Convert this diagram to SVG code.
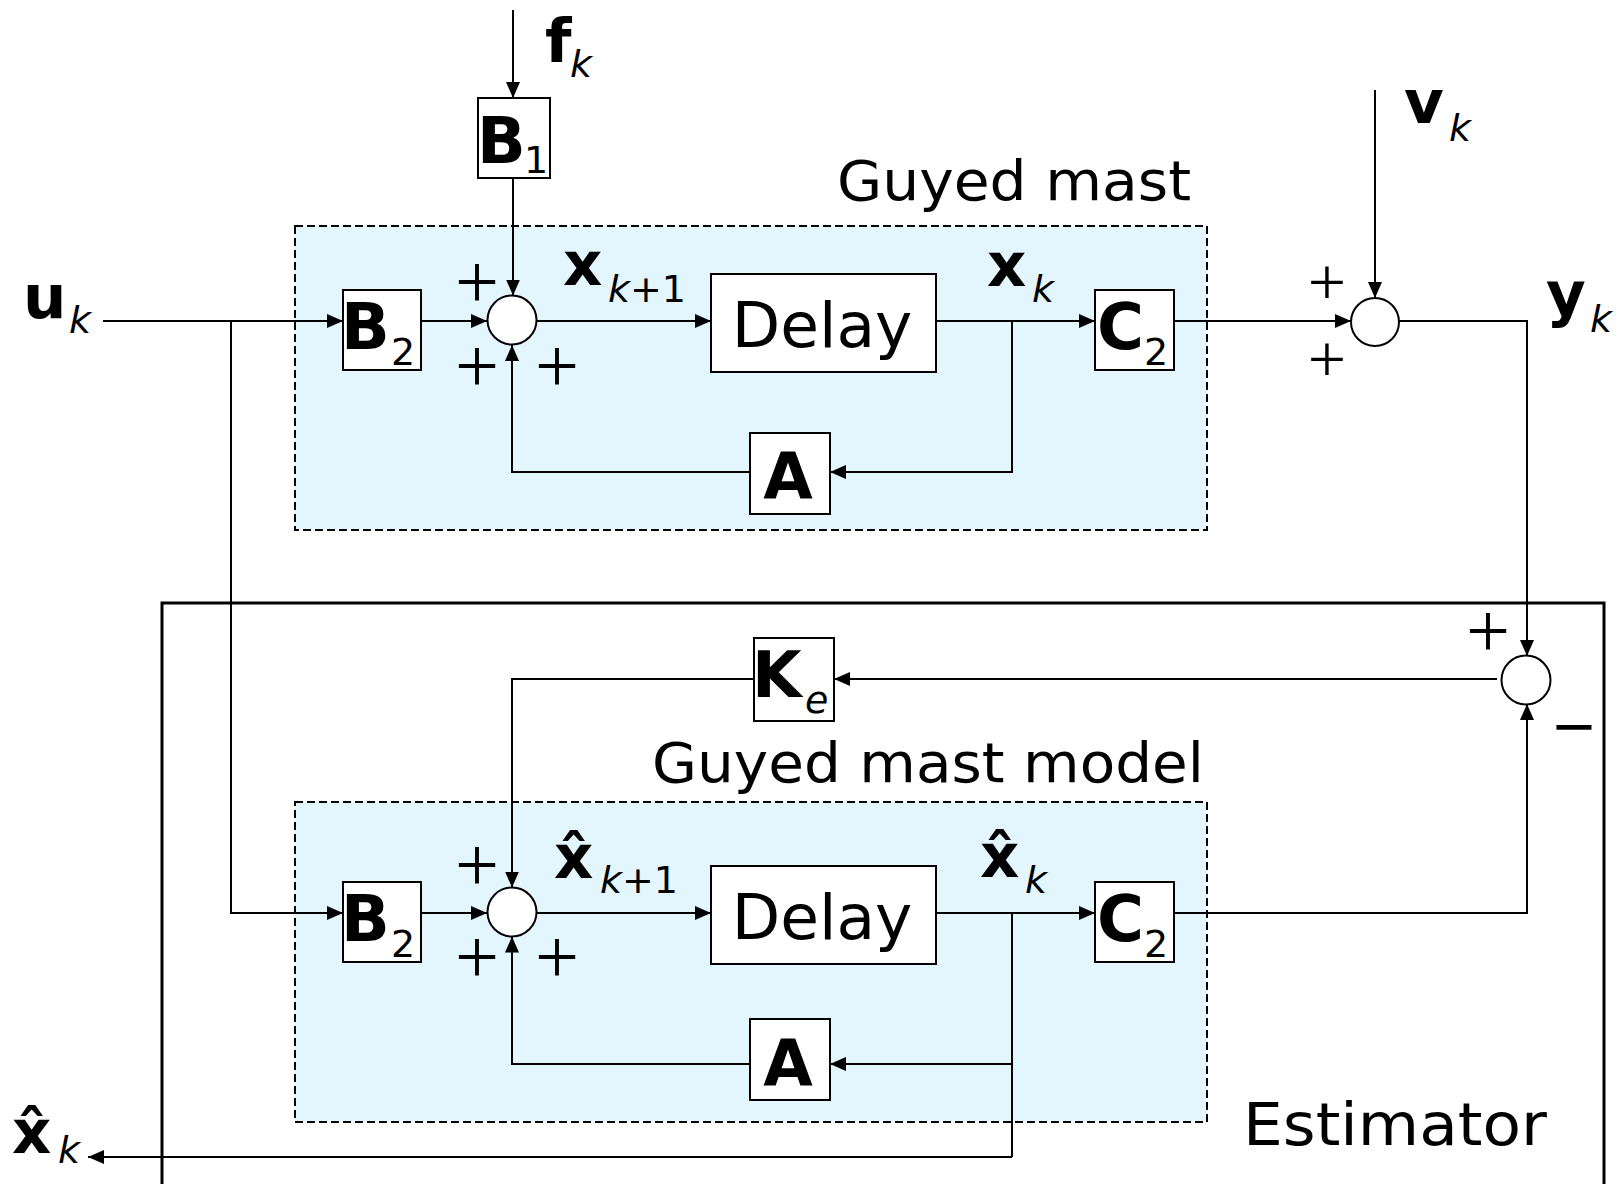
<svg xmlns="http://www.w3.org/2000/svg" width="1622" height="1184" viewBox="0 0 1622 1184">
<style>
.ln{fill:none;stroke:#000;stroke-width:2}
.bx{fill:#fff;stroke:#000;stroke-width:2}
.sum{fill:#fff;stroke:#000;stroke-width:2}
.dash{fill:#E3F5FD;stroke:#000;stroke-width:2;stroke-dasharray:8,4}
.bl{font-family:"DejaVu Sans",Verdana,sans-serif;font-weight:bold;font-size:61px}
.bb{font-family:"DejaVu Sans",Verdana,sans-serif;font-weight:bold;font-size:64px}
.sub{font-family:"DejaVu Sans",Verdana,sans-serif;font-size:38px}
.it{font-style:italic}
.lab{font-family:"DejaVu Sans",Verdana,sans-serif;font-size:56px}
.dl{font-family:"DejaVu Sans",Verdana,sans-serif;font-size:63px}
.pl{font-family:"Liberation Serif",serif;font-size:78px}
.ps{font-family:"Liberation Serif",serif;font-size:68px}
</style>
<defs>
<marker id="ah" markerUnits="userSpaceOnUse" markerWidth="16" markerHeight="14" refX="16" refY="7" orient="auto"><path d="M0,0 L16,7 L0,14 z" fill="#000"/></marker>
</defs>
<rect width="1622" height="1184" fill="#fff"/>

<g id="guyed-mast">
<rect class="dash" x="295" y="226" width="912" height="304"/>
<text class="lab" x="837" y="200" textLength="354" lengthAdjust="spacingAndGlyphs">Guyed mast</text>
</g>
<g id="estimator">
<path d="M162,1190 V603 H1604 V1190" fill="none" stroke="#000" stroke-width="3"/>
<text class="lab" x="1243" y="1145" textLength="304" lengthAdjust="spacingAndGlyphs" style="font-size:58px">Estimator</text>
</g>
<g id="guyed-mast-model">
<rect class="dash" x="295" y="802" width="912" height="320"/>
<text class="lab" x="652" y="782" textLength="552" lengthAdjust="spacingAndGlyphs">Guyed mast model</text>
</g>

<g id="connectors">
<path class="ln" d="M103,321 H343" marker-end="url(#ah)"/>
<path class="ln" d="M231,321 V913 H343" marker-end="url(#ah)"/>
<path class="ln" d="M421,321 H487" marker-end="url(#ah)"/>
<path class="ln" d="M513,10 V98" marker-end="url(#ah)"/>
<path class="ln" d="M513,178 V295.5" marker-end="url(#ah)"/>
<path class="ln" d="M536,321 H711" marker-end="url(#ah)"/>
<path class="ln" d="M936,321 H1095" marker-end="url(#ah)"/>
<path class="ln" d="M1012,321 V472 H830" marker-end="url(#ah)"/>
<path class="ln" d="M750,472 H512 V345" marker-end="url(#ah)"/>
<path class="ln" d="M1174,321 H1351" marker-end="url(#ah)"/>
<path class="ln" d="M1375,90 V298" marker-end="url(#ah)"/>
<path class="ln" d="M1399,321 H1527 V656" marker-end="url(#ah)"/>
<path class="ln" d="M1497,679 H834" marker-end="url(#ah)"/>
<path class="ln" d="M754,679 H512 V887.5" marker-end="url(#ah)"/>
<path class="ln" d="M421,913 H487" marker-end="url(#ah)"/>
<path class="ln" d="M536,913 H711" marker-end="url(#ah)"/>
<path class="ln" d="M936,913 H1095" marker-end="url(#ah)"/>
<path class="ln" d="M1012,913 V1157"/>
<path class="ln" d="M1012,1064 H830" marker-end="url(#ah)"/>
<path class="ln" d="M1012,1157 H88" marker-end="url(#ah)"/>
<path class="ln" d="M750,1064 H512 V936.5" marker-end="url(#ah)"/>
<path class="ln" d="M1174,913 H1527 V704" marker-end="url(#ah)"/>
</g>

<g id="b1">
<rect class="bx" x="478" y="98" width="72" height="80"/>
<text class="bb" x="477" y="163">B</text><text class="sub" x="524" y="173">1</text>
</g>
<g id="b2-upper">
<rect class="bx" x="343" y="290" width="78" height="80"/>
<text class="bb" x="341" y="349">B</text><text class="sub" x="391" y="365">2</text>
</g>
<g id="sum-upper">
<circle class="sum" cx="512" cy="320" r="24.5"/>
<text class="pl" x="477" y="308" text-anchor="middle">+</text>
<text class="pl" x="477" y="392" text-anchor="middle">+</text>
<text class="pl" x="557" y="392" text-anchor="middle">+</text>
</g>
<g id="delay-upper">
<rect class="bx" x="711" y="274" width="225" height="98"/>
<text class="dl" x="822" y="347" text-anchor="middle">Delay</text>
</g>
<g id="c2-upper">
<rect class="bx" x="1095" y="290" width="79" height="80"/>
<text class="bb" x="1097" y="349">C</text><text class="sub" x="1144" y="365">2</text>
</g>
<g id="a-upper">
<rect class="bx" x="750" y="433" width="80" height="81"/>
<text class="bb" x="788" y="499" text-anchor="middle">A</text>
</g>
<g id="sum-output">
<circle class="sum" cx="1375" cy="322" r="24"/>
<text class="ps" x="1327" y="305" text-anchor="middle">+</text>
<text class="ps" x="1327" y="382" text-anchor="middle">+</text>
</g>
<g id="sum-error">
<circle class="sum" cx="1526" cy="680" r="24.5"/>
<text class="pl" x="1488" y="657" text-anchor="middle">+</text>
<text x="1574" y="745" text-anchor="middle" style="font-family:'DejaVu Sans',sans-serif;font-size:56px">−</text>
</g>
<g id="ke">
<rect class="bx" x="754" y="638" width="80" height="83"/>
<text class="bb" x="752" y="697">K</text><text class="sub it" x="805" y="713">e</text>
</g>
<g id="b2-lower">
<rect class="bx" x="343" y="882" width="78" height="80"/>
<text class="bb" x="341" y="941">B</text><text class="sub" x="391" y="957">2</text>
</g>
<g id="sum-lower">
<circle class="sum" cx="512" cy="912" r="24.5"/>
<text class="pl" x="477" y="891" text-anchor="middle">+</text>
<text class="pl" x="477" y="983" text-anchor="middle">+</text>
<text class="pl" x="557" y="983" text-anchor="middle">+</text>
</g>
<g id="delay-lower">
<rect class="bx" x="711" y="866" width="225" height="98"/>
<text class="dl" x="822" y="939" text-anchor="middle">Delay</text>
</g>
<g id="c2-lower">
<rect class="bx" x="1095" y="882" width="79" height="80"/>
<text class="bb" x="1097" y="941">C</text><text class="sub" x="1144" y="957">2</text>
</g>
<g id="a-lower">
<rect class="bx" x="750" y="1019" width="80" height="81"/>
<text class="bb" x="788" y="1086" text-anchor="middle">A</text>
</g>

<g id="labels">
<text class="bl" x="23" y="318">u</text><text class="sub it" x="69" y="333">k</text>
<text class="bl" x="545" y="62">f</text><text class="sub it" x="570" y="77">k</text>
<text class="bl" x="563" y="285">x</text><text class="sub" x="608" y="302"><tspan class="it">k</tspan>+1</text>
<text class="bl" x="987" y="286">x</text><text class="sub it" x="1032" y="302">k</text>
<text class="bl" x="1404" y="123">v</text><text class="sub it" x="1449" y="141">k</text>
<text class="bl" x="1546" y="315">y</text><text class="sub it" x="1590" y="332">k</text>
<text class="bl" x="554" y="878">x̂</text><text class="sub" x="600" y="893"><tspan class="it">k</tspan>+1</text>
<text class="bl" x="980" y="877">x̂</text><text class="sub it" x="1025" y="893">k</text>
<text class="bl" x="12" y="1153">x̂</text><text class="sub it" x="58" y="1163">k</text>
</g>
</svg>
